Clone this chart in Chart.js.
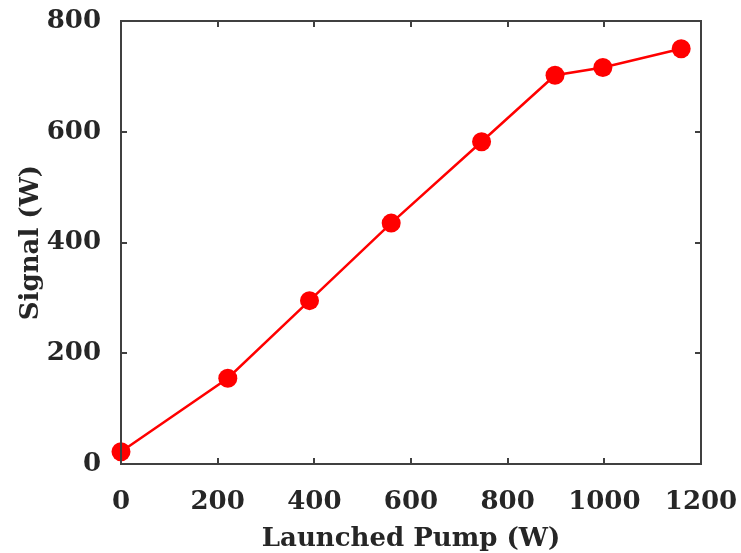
<!DOCTYPE html>
<html>
<head>
<meta charset="utf-8">
<script src="https://cdn.jsdelivr.net/npm/chart.js@4"></script>
<style>
    html, body { margin: 0; padding: 0; background: #fff; }
    #wrap { width: 741px; height: 553px; }
</style>
</head>
<body>
<div id="wrap"><canvas id="chart"></canvas></div>
<script>
// Data
const pumpW = [0, 221, 390, 559, 746, 898, 997, 1159];
const signalW = [22, 155, 295, 435, 582, 702, 716, 750];
const xTicks = [0, 200, 400, 600, 800, 1000, 1200];
const yTicks = [0, 200, 400, 600, 800];

const axisColor = '#404040';
const textColor = '#262626';
const fontFamily = '"DejaVu Serif", "Liberation Serif", serif';

// Draw frame box with inward ticks on all four sides
const frameTicks = {
    id: 'frameTicks',
    afterDatasetsDraw(chart) {
        const { ctx, chartArea: a, scales: { x, y } } = chart;
        const len = 6;
        ctx.save();
        ctx.strokeStyle = axisColor;
        ctx.lineWidth = 2;
        ctx.beginPath();
        xTicks.forEach(v => {
            const px = Math.round(x.getPixelForValue(v));
            ctx.moveTo(px, a.bottom); ctx.lineTo(px, a.bottom - len);
            ctx.moveTo(px, a.top); ctx.lineTo(px, a.top + len);
        });
        yTicks.forEach(v => {
            const py = Math.round(y.getPixelForValue(v));
            ctx.moveTo(a.left, py); ctx.lineTo(a.left + len, py);
            ctx.moveTo(a.right, py); ctx.lineTo(a.right - len, py);
        });
        ctx.stroke();
        ctx.strokeRect(a.left, a.top, a.right - a.left, a.bottom - a.top);
        ctx.restore();
    }
};

new Chart(document.getElementById('chart'), {
    type: 'line',
    data: {
        datasets: [{
            data: pumpW.map((p, i) => ({ x: p, y: signalW[i] })),
            borderColor: '#ff0000',
            backgroundColor: '#ff0000',
            borderWidth: 2.5,
            pointRadius: 9.5,
            pointHoverRadius: 9.5,
            pointBorderWidth: 0,
            tension: 0,
            clip: false
        }]
    },
    options: {
        responsive: true,
        maintainAspectRatio: false,
        animation: false,
        layout: { padding: { top: 21, right: 40, left: 0, bottom: 0 } },
        plugins: {
            legend: { display: false },
            tooltip: { enabled: false }
        },
        scales: {
            x: {
                type: 'linear',
                min: 0,
                max: 1200,
                afterFit: s => {
                    s.height = 89;
                    s.paddingLeft = 0;
                    s.paddingRight = 0;
                },
                afterBuildTicks: s => { s.ticks = xTicks.map(v => ({ value: v })); },
                grid: { display: false },
                border: { display: false },
                ticks: {
                    color: textColor,
                    padding: 15,
                    maxRotation: 0,
                    callback: v => String(v),
                    font: { family: fontFamily, size: 26, weight: 'bold' }
                },
                title: {
                    display: true,
                    text: 'Launched Pump (W)',
                    color: textColor,
                    padding: { top: 0, bottom: -2 },
                    font: { family: fontFamily, size: 26, weight: 'bold' }
                }
            },
            y: {
                min: 0,
                max: 800,
                afterFit: s => {
                    s.width = 121;
                    s.paddingTop = 0;
                    s.paddingBottom = 0;
                },
                afterBuildTicks: s => { s.ticks = yTicks.map(v => ({ value: v })); },
                grid: { display: false },
                border: { display: false },
                ticks: {
                    color: textColor,
                    padding: 12,
                    callback: v => String(v),
                    font: { family: fontFamily, size: 26, weight: 'bold' }
                },
                title: {
                    display: true,
                    text: 'Signal (W)',
                    color: textColor,
                    padding: { top: 16, bottom: 0 },
                    font: { family: fontFamily, size: 26, weight: 'bold' }
                }
            }
        }
    },
    plugins: [frameTicks]
});
</script>
</body>
</html>
